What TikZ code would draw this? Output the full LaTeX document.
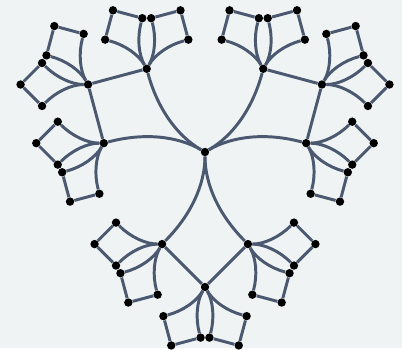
\documentclass[tikz,border=0pt]{standalone}
\usepackage{tikz}
\usetikzlibrary{calc}
\definecolor{TreeSlate}{HTML}{4A5870}
\definecolor{TreeDot}{HTML}{000000}
\definecolor{TreeBack}{HTML}{EFF3F4}
\tikzset{
    % filled vertex
    vertex/.style={
        circle,
        fill=TreeDot,
        inner sep=0pt,
        minimum size=0.21cm
    },
    edge/.style={
        draw=TreeSlate,
        line width=2.1pt
    }
}
% one petal: #1 base node, #2 direction, #3 length, #4 name
\newcommand{\petal}[4]{%
    \coordinate (#4-d) at ($(#1)+(#2:{0.364*#3})$);
    \node[vertex] (#4-o) at ($(#1)+(#2:#3)$) {};
    \node[vertex] (#4-l) at ($(#1)+(#2:{0.682*#3})+(#2+90:{0.318*#3})$) {};
    \node[vertex] (#4-r) at ($(#1)+(#2:{0.682*#3})+(#2-90:{0.318*#3})$) {};
    \draw[edge] (#1) .. controls ($(#1)!2/3!(#4-d)$) and ($(#4-l)!2/3!(#4-d)$) .. (#4-l);
    \draw[edge] (#1) .. controls ($(#1)!2/3!(#4-d)$) and ($(#4-r)!2/3!(#4-d)$) .. (#4-r);
    \draw[edge] (#4-l) -- (#4-o);
    \draw[edge] (#4-r) -- (#4-o);
}

\begin{document}
\begin{tikzpicture}[x=0.025cm, y=0.025cm]
    \fill[TreeBack] (-205,152) rectangle (197,-196);
    \node[vertex] (c) at (0,0) {};

    \foreach \ang [count=\k] in {-90,150,30} {
        \petal{c}{\ang}{135}{p\k}
        \petal{p\k-o}{\ang+30}{67.5}{p\k-oa}
        \petal{p\k-o}{\ang-30}{67.5}{p\k-ob}
        \petal{p\k-l}{\ang+30}{67.5}{p\k-la}
        \petal{p\k-l}{\ang+90}{67.5}{p\k-lb}
        \petal{p\k-r}{\ang-30}{67.5}{p\k-ra}
        \petal{p\k-r}{\ang-90}{67.5}{p\k-rb}
    }
\end{tikzpicture}
\end{document}
